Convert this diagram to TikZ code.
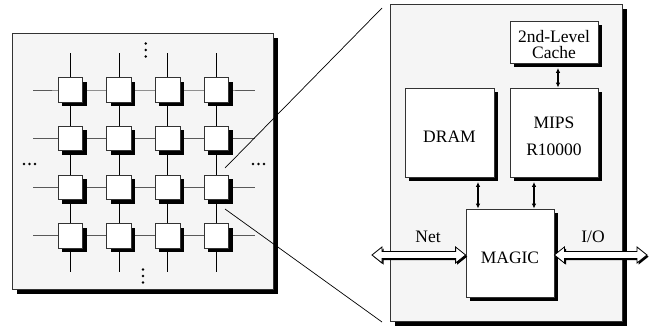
\documentclass[tikz,border=0pt]{standalone}
\usepackage{fontspec}
\setmainfont{Liberation Serif}
\usetikzlibrary{shadows,arrows.meta}
\pgfdeclarelayer{panels}
\pgfdeclarelayer{wires}
\pgfsetlayers{panels,wires,main}

\begin{document}
\begin{tikzpicture}[x=1pt,y=-1pt,
  >={Latex[length=5pt,width=4.5pt]},
  blackshadow/.style={drop shadow={shadow xshift=#1, shadow yshift=-#1, fill=black, opacity=1}},
  panel/.style={draw=black!80, line width=0.8pt, fill=black!4, inner sep=0pt, blackshadow=4.5pt},
  chip/.style={draw=black!80, line width=0.9pt, fill=white, minimum size=24.5pt, inner sep=0pt, blackshadow=4pt},
  unit/.style={draw=black!80, line width=0.8pt, fill=white, inner sep=0pt, blackshadow=4pt},
  utext/.style={font=\fontsize{17.5}{16.5}\selectfont, align=center, inner sep=0pt},
  hwire/.style={draw=black!65, line width=1pt},
  vwire/.style={draw=black, line width=1pt},
  conn/.style={line width=1.1pt, <->},
  zoomline/.style={line width=0.7pt},
  wide/.style={draw=black, line width=0.8pt, fill=white, blackshadow=1.6pt},
  dot/.style={fill=black}
]
\useasboundingbox (0,0) rectangle (649,327);

% ---- the two panels
\begin{pgfonlayer}{panels}
  \node[panel, minimum width=261pt, minimum height=256pt] (mesh) at (142.5,161) {};
  \node[panel, minimum width=232pt, minimum height=317pt] (board) at (506,162.5) {};
\end{pgfonlayer}

% ---- 4x4 mesh of nodes
\foreach \i in {1,...,4}{
  \foreach \j in {1,...,4}{
    \node[chip] (n-\i-\j) at ({70.5+48.6*(\j-1)},{90+48.65*(\i-1)}) {};
  }
}

% ---- mesh wiring
\begin{pgfonlayer}{wires}
  \foreach \i in {1,...,4}{
    \coordinate (wl-\i) at (33,{90+48.65*(\i-1)});
    \coordinate (wr-\i) at (255,{90+48.65*(\i-1)});
    \draw[hwire] (wl-\i) -- (n-\i-1.center) -- (n-\i-2.center) -- (n-\i-3.center) -- (n-\i-4.center) -- (wr-\i);
  }
  \foreach \j in {1,...,4}{
    \coordinate (wt-\j) at ({70.5+48.6*(\j-1)},53);
    \coordinate (wb-\j) at ({70.5+48.6*(\j-1)},272);
    \draw[vwire] (wt-\j) -- (n-1-\j.center) -- (n-2-\j.center) -- (n-3-\j.center) -- (n-4-\j.center) -- (wb-\j);
  }
\end{pgfonlayer}

% ---- continuation dots
\foreach \y in {43.5,50,56.5} \fill[dot] (145.7,\y) circle (1.4);
\foreach \y in {269.5,276,282.5} \fill[dot] (143,\y) circle (1.4);
\foreach \x in {24,29.5,35} \fill[dot] (\x,164) circle (1.4);
\foreach \x in {253,258.5,264} \fill[dot] (\x,164) circle (1.4);

% ---- node internals
\node[unit, minimum width=88pt, minimum height=42pt] (cache) at (554,42) {};
\node[utext] at ([yshift=-2.5pt]cache.center) {2nd-Level\\Cache};
\node[unit, minimum width=89pt, minimum height=89pt] (dram) at (449.5,132.5) {};
\node[utext] at ([yshift=-4.5pt]dram.center) {DRAM};
\node[unit, minimum width=88pt, minimum height=89pt] (mips) at (554,132.5) {};
\node[utext] at ([yshift=-4pt]mips.center) {MIPS\\[11pt]R10000};
\node[unit, minimum width=88pt, minimum height=88pt] (magic) at (510,253) {};
\node[utext] at ([yshift=-4.5pt]magic.center) {MAGIC};

% arrows start just below the shadows of the upper boxes
\draw[conn] ([shift={(4,4.5)}]cache.south) -- ([xshift=4pt]mips.north);
\draw[conn] ([shift={(28.5,4.5)}]dram.south) -- ([xshift=28.5pt]dram.south |- magic.north);
\draw[conn] ([shift={(-20,4.5)}]mips.south) -- ([xshift=-20pt]mips.south |- magic.north);

% ---- wide double arrows to the network and I/O
\newcommand\widearrow[2]{%
  \draw[wide] (#1) -- ([shift={(10,-8)}]#1) -- ([shift={(10,-3.5)}]#1)
    -- ([shift={(-10,-3.5)}]#2) -- ([shift={(-10,-8)}]#2) -- (#2)
    -- ([shift={(-10,8)}]#2) -- ([shift={(-10,3.5)}]#2)
    -- ([shift={(10,3.5)}]#1) -- ([shift={(10,8)}]#1) -- cycle;}
\coordinate (netend) at (372,0 |- magic.west);
\coordinate (ioend) at (647,0 |- magic.east);
\coordinate (magicin) at ([yshift=-2pt]magic.west);
\coordinate (magicout) at ([yshift=-2pt]magic.east);
\coordinate (netend) at ([yshift=-2pt]netend);
\coordinate (ioend) at ([yshift=-2pt]ioend);
\widearrow{netend}{magicin}
\widearrow{magicout}{ioend}
\node[utext] (netlbl) at (428,237) {Net};
\node[utext] (iolbl) at (593,237) {I/O};

% ---- magnification lines
\coordinate (za) at (225,168);
\coordinate (zb) at (225,209);
\coordinate (zc) at (382,8);
\coordinate (zd) at (382,322);
\draw[zoomline] (za) -- (zc);
\draw[zoomline] (zb) -- (zd);
\end{tikzpicture}
\end{document}
